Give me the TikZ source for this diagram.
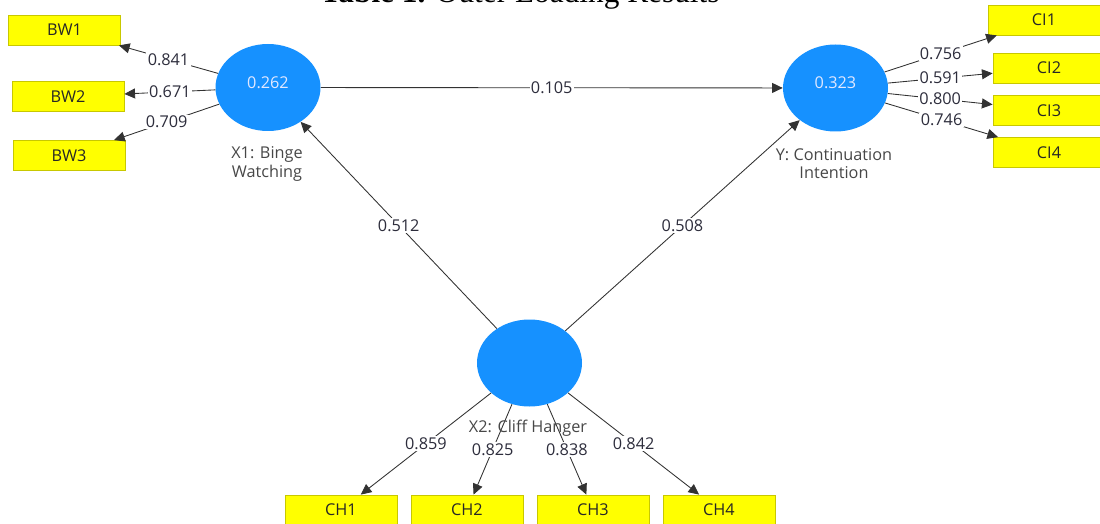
\documentclass[tikz,border=0pt]{standalone}
\usepackage{fontspec}
\setmainfont{Open Sans}
\newfontfamily\titlefont{Liberation Serif}
\usetikzlibrary{arrows.meta,shapes.geometric}
\definecolor{lvblue}{RGB}{22,145,255}
\definecolor{indfill}{RGB}{255,255,0}
\definecolor{indedge}{RGB}{200,200,0}
\definecolor{edgecol}{RGB}{50,50,50}
\definecolor{labcol}{RGB}{45,45,60}
\definecolor{rsqcol}{RGB}{225,232,255}
\begin{document}
\begin{tikzpicture}[x=0.75pt,y=-0.75pt,
  every node/.style={font=\fontsize{12.2}{14}\selectfont},
  latent/.style={ellipse, fill=lvblue, draw=none, minimum width=78.75pt, minimum height=65.25pt, inner sep=0pt},
  rsq/.style={text=rsqcol},
  indbox/.style={rectangle, fill=indfill, draw=indedge, line width=0.6pt, minimum width=84pt, minimum height=22.5pt, inner sep=0pt, text=black!85},
  pathedge/.style={draw=edgecol, line width=0.65pt, -{Triangle[length=8pt,width=7.5pt]}},
  wt/.style={fill=white, inner sep=1pt, text=labcol, midway},
  lvname/.style={text=black!72, align=center}
]
\useasboundingbox (0,0) rectangle (1100,524);
\clip (0,0) rectangle (1100,524);

% title (cut off at top, as in the reference)
\node[anchor=base, inner sep=0pt, font=\titlefont\fontsize{23.5}{28}\selectfont] (title) at (520,3) {\textbf{Table 1.} Outer Loading Results};

% latent variables
\node[latent] (X1) at (268,87.5) {};
\node[latent] (Y) at (835.5,88) {};
\node[latent] (X2) at (529.5,363) {};

% indicators
\node[indbox] (BW1) at (64.5,30) {BW1};
\node[indbox] (BW2) at (68,96.5) {BW2};
\node[indbox] (BW3) at (69,155.5) {BW3};
\node[indbox] (CI1) at (1044,20) {CI1};
\node[indbox] (CI2) at (1049,68) {CI2};
\node[indbox] (CI3) at (1049,110.5) {CI3};
\node[indbox] (CI4) at (1049,152.5) {CI4};
\node[indbox] (CH1) at (341,510) {CH1};
\node[indbox] (CH2) at (467,510) {CH2};
\node[indbox] (CH3) at (593,510) {CH3};
\node[indbox] (CH4) at (719,510) {CH4};

% outer loadings
\draw[pathedge] (X1) -- node[wt]{0.841} (BW1);
\draw[pathedge] (X1) -- node[wt]{0.671} (BW2);
\draw[pathedge] (X1) -- node[wt]{0.709} (BW3);
\draw[pathedge] (Y) -- node[wt]{0.756} (CI1);
\draw[pathedge] (Y) -- node[wt]{0.591} (CI2);
\draw[pathedge] (Y) -- node[wt]{0.800} (CI3);
\draw[pathedge] (Y) -- node[wt]{0.746} (CI4);
\draw[pathedge] (X2) -- node[wt]{0.859} (CH1);
\draw[pathedge] (X2) -- node[wt]{0.825} (CH2);
\draw[pathedge] (X2) -- node[wt]{0.838} (CH3);
\draw[pathedge] (X2) -- node[wt]{0.842} (CH4);

% structural paths
\draw[pathedge] (X1) -- node[wt]{0.105} (Y);
\draw[pathedge] (X2) -- node[wt]{0.512} (X1);
\draw[pathedge] (X2) -- node[wt]{0.508} (Y);

% R-square values
\node[rsq] (X1r) at (268,83) {0.262};
\node[rsq] (Yr) at (835.5,83) {0.323};

% latent variable names
\node[lvname] (X1n) at (267,164) {X1: Binge\\Watching};
\node[lvname] (Yn) at (834,163.5) {Y: Continuation\\Intention};
\node[lvname] (X2n) at (528,428) {X2: Cliff Hanger};
\end{tikzpicture}
\end{document}
